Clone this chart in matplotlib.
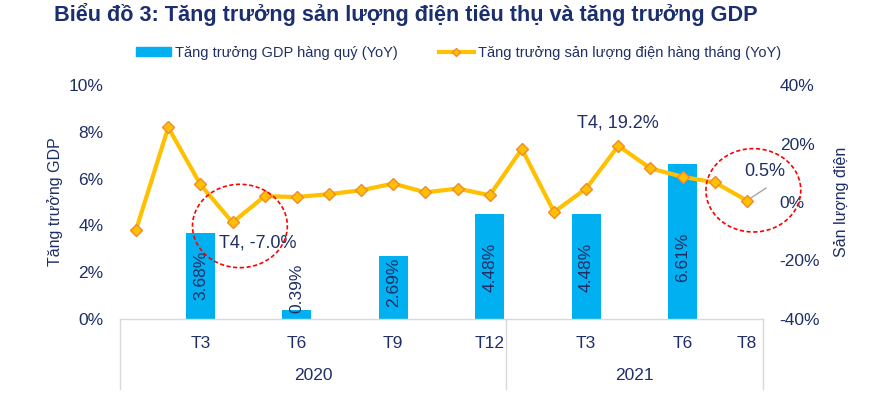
import matplotlib
matplotlib.use('Agg')
from matplotlib import pyplot as plt
from matplotlib.patches import Ellipse, Patch
from matplotlib.lines import Line2D
import matplotlib.transforms as mtransforms

plt.rcParams['font.family'] = ['Liberation Sans', 'DejaVu Sans']

# số liệu
months = ['T1', 'T2', 'T3', 'T4', 'T5', 'T6', 'T7', 'T8', 'T9', 'T10', 'T11', 'T12',
          'T1', 'T2', 'T3', 'T4', 'T5', 'T6', 'T7', 'T8']
years = ['2020', '2021']
elec_growth = [-9.5, 25.5, 6.0, -7.0, 2.0, 1.7, 2.7, 4.0, 6.3, 3.3, 4.6, 2.3,
               18.1, -3.4, 4.6, 19.2, 11.5, 8.6, 6.7, 0.5]
gdp_idx = [2, 5, 8, 11, 14, 17]
gdp_growth = [3.68, 0.39, 2.69, 4.48, 4.48, 6.61]
gdp_text = ['3.68%', '0.39%', '2.69%', '4.48%', '4.48%', '6.61%']
tick_idx = [2, 5, 8, 11, 14, 17, 19]

navy = '#1F2F66'
blue = '#00B0F0'
gold = '#FFC000'

fig = plt.figure(figsize=(8.7, 3.97), dpi=100)
ax = fig.add_axes([120 / 870, 1 - 319 / 397, 643 / 870, 234 / 397])
ax2 = ax.twinx()

# cột GDP
ax.bar(gdp_idx, gdp_growth, width=0.9, color=blue, zorder=2)
label_y = [1.85, 1.3, 1.55, 2.2, 2.2, 2.65]
for i, t, y in zip(gdp_idx, gdp_text, label_y):
    ax.text(i, y, t, rotation=90, ha='center', va='center', fontsize=12.5, color=navy, zorder=3)

# đường sản lượng điện
x = list(range(len(elec_growth)))
ax2.plot(x, elec_growth, color=gold, lw=3, marker='D', markersize=6,
         markerfacecolor=gold, markeredgecolor='#F08A30', markeredgewidth=1, zorder=4)

ax.set_xlim(-0.5, 19.5)
ax.set_ylim(0, 10)
ax2.set_ylim(-40, 40)
ax.set_yticks([0, 2, 4, 6, 8, 10])
ax.set_yticklabels(['0%', '2%', '4%', '6%', '8%', '10%'])
ax2.set_yticks([-40, -20, 0, 20, 40])
ax2.set_yticklabels(['-40%', '-20%', '0%', '20%', '40%'])
for a in (ax, ax2):
    for s in a.spines.values():
        s.set_visible(False)
    a.tick_params(axis='y', length=0, labelsize=12.5, labelcolor=navy)
ax.tick_params(axis='y', pad=12)
ax2.tick_params(axis='y', pad=12)

ax.set_xticks(tick_idx)
ax.set_xticklabels([months[i] for i in tick_idx])
ax.tick_params(axis='x', length=0, labelsize=12.5, labelcolor=navy, pad=12)

ax.set_ylabel('Tăng trưởng GDP', fontsize=11.5, color=navy, labelpad=4)
ax2.set_ylabel('Sản lượng điện', fontsize=11.5, color=navy, labelpad=10)

# khung trục danh mục
trans = mtransforms.blended_transform_factory(ax.transData, ax.transAxes)
gray = '#D9D9D9'
ax.plot([-0.5, 19.5], [0, 0], color=gray, lw=1, transform=trans, clip_on=False)
for xv in (-0.5, 11.5, 19.5):
    ax.plot([xv, xv], [0, -0.3], color=gray, lw=1, transform=trans, clip_on=False)
ax.text(5.5, -0.24, years[0], transform=trans, ha='center', va='center', fontsize=12.5, color=navy)
ax.text(15.5, -0.24, years[1], transform=trans, ha='center', va='center', fontsize=12.5, color=navy)

# chú thích
ax2.annotate('T4, -7.0%', xy=(3, elec_growth[3]), xytext=(-14, -21), textcoords='offset pixels',
             ha='left', va='center', fontsize=13, color=navy, zorder=5)
ax2.annotate('T4, 19.2%', xy=(15, elec_growth[15]), xytext=(0, 23), textcoords='offset pixels',
             ha='center', va='center', fontsize=13, color=navy, zorder=5)
ax2.annotate('', xy=(19, elec_growth[19]), xytext=(19.6, 4.8),
             arrowprops=dict(arrowstyle='-', color='#A6A6A6', lw=1, shrinkA=0, shrinkB=3))
ax2.annotate('0.5%', xy=(19, elec_growth[19]), xytext=(-3, 29), textcoords='offset pixels',
             ha='left', va='center', fontsize=13, color=navy, zorder=5)
for cx, cy in ((3.23, -8.2), (19.2, 4.0)):
    ax2.add_patch(Ellipse((cx, cy), 2.95, 28.5, fill=False, ec='#FF0000', lw=1.2,
                          ls=(0, (2.5, 1.5)), clip_on=False, zorder=6))

# chú giải
handles = [Patch(color=blue),
           Line2D([0], [0], color=gold, lw=3, marker='D', markersize=4,
                  markerfacecolor=gold, markeredgecolor='#F08A30')]
fig.legend(handles, ['Tăng trưởng GDP hàng quý (YoY)', 'Tăng trưởng sản lượng điện hàng tháng (YoY)'],
           loc='center', bbox_to_anchor=(0.527, 1 - 53 / 397), ncol=2, frameon=False,
           fontsize=10.5, labelcolor=navy, handlelength=2.4, handleheight=0.6,
           handletextpad=0.3, columnspacing=2.8)

fig.text(54 / 870, 1 - 15 / 397, 'Biểu đồ 3: Tăng trưởng sản lượng điện tiêu thụ và tăng trưởng GDP',
         ha='left', va='center', fontsize=15.6, fontweight='bold', color='#1B2F6E')

fig.savefig('out.png', dpi=100)
